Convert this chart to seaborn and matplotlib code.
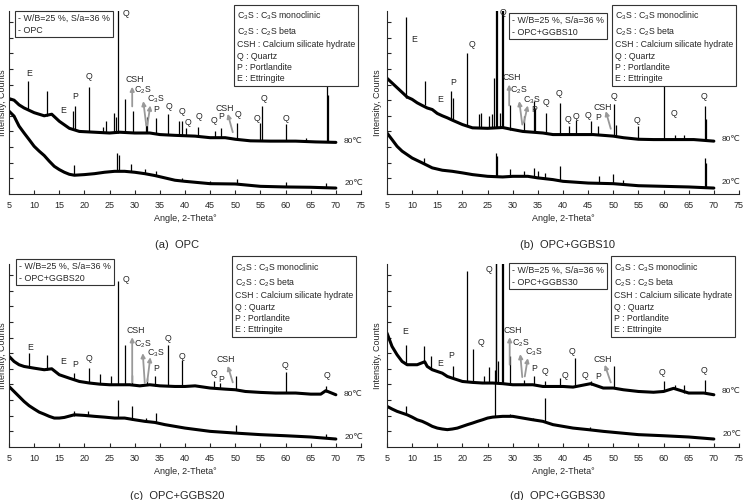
import matplotlib
matplotlib.use("Agg")
import matplotlib.pyplot as plt
import seaborn as sns

# ---------------- data ----------------
ANGLE_TICKS = list(range(5, 80, 5))
TEMPS = ["80℃", "20℃"]
MIXES = ["OPC", "OPC+GGBS10", "OPC+GGBS20", "OPC+GGBS30"]
CAPTIONS = ["(a)  OPC", "(b)  OPC+GGBS10", "(c)  OPC+GGBS20", "(d)  OPC+GGBS30"]
PHASES = [r"C$_3$S : C$_3$S monoclinic", r"C$_2$S : C$_2$S beta",
          "CSH : Calcium silicate hydrate", "Q : Quartz", "P : Portlandite",
          "E : Ettringite"]

# baseline (angle, intensity) and peaks (angle, foot, top)
A80_X = [5, 6, 7, 8, 10, 12, 13.5, 15, 17, 19, 22, 25, 27, 30, 33, 35, 38, 42, 45, 48, 50, 53, 57, 62, 66, 70]
A80_Y = [6.1, 6.0, 5.7, 5.5, 5.2, 5.0, 5.1, 4.65, 4.2, 4.0, 3.95, 3.9, 3.95, 3.9, 3.9, 3.8, 3.75, 3.7, 3.6, 3.6, 3.5, 3.4, 3.38, 3.38, 3.33, 3.3]
A80_PK = [(8.86, 5.4, 7.2), (12.5, 5.0, 6.6), (17.7, 4.2, 5.3), (18.2, 4.15, 5.6), (20.9, 4.0, 6.86),
          (23.7, 3.95, 4.3), (24.3, 3.95, 4.65), (25.8, 3.9, 5.2), (26.3, 3.9, 4.9), (26.7, 3.9, 12.0),
          (28.0, 3.95, 6.05), (29.6, 3.9, 5.3), (32.3, 3.9, 4.55), (32.5, 3.9, 4.9), (34.2, 3.85, 4.87),
          (36.6, 3.8, 5.1), (38.8, 3.75, 4.66), (39.4, 3.75, 4.66), (40.2, 3.73, 4.2), (42.6, 3.7, 4.3),
          (45.9, 3.6, 4.0), (47.1, 3.6, 4.2), (50.3, 3.5, 4.55), (54.9, 3.4, 4.55), (55.4, 3.4, 5.6),
          (60.0, 3.38, 4.45), (64.0, 3.35, 3.6), (68.2, 3.33, 7.2), (68.5, 3.33, 6.3)]
A20_X = [5, 6, 7, 8, 9, 10, 11, 12, 13, 14, 15, 16, 17, 18, 20, 22, 24, 26, 28, 30, 32, 34, 36, 38, 40, 45, 50, 55, 60, 65, 70]
A20_Y = [5.3, 4.98, 4.34, 3.9, 3.48, 3.05, 2.74, 2.46, 2.1, 1.77, 1.56, 1.39, 1.26, 1.2, 1.24, 1.3, 1.39, 1.45, 1.45, 1.39, 1.3, 1.18, 1.03, 0.88, 0.81, 0.66, 0.64, 0.49, 0.45, 0.43, 0.38]
A20_PK = [(18.0, 1.2, 1.84), (26.5, 1.45, 2.63), (26.8, 1.45, 2.5), (29.2, 1.4, 1.94), (32.0, 1.3, 1.6),
          (34.2, 1.18, 1.45), (39.4, 0.85, 1.05), (45.0, 0.66, 0.85), (50.3, 0.64, 0.96), (60.0, 0.45, 0.75),
          (68.0, 0.4, 0.7)]

B80_X = [5, 6, 7, 8, 9, 10, 11, 12, 13, 14, 15, 16, 17, 18, 20, 22, 25, 28, 30, 32, 34, 36, 38, 42, 46, 50, 52, 55, 58, 62, 66, 70]
B80_Y = [7.4, 7.1, 6.8, 6.5, 6.2, 6.05, 5.83, 5.66, 5.5, 5.4, 5.15, 5.0, 4.87, 4.72, 4.44, 4.23, 4.2, 4.25, 4.12, 4.0, 3.95, 3.9, 3.8, 3.8, 3.8, 3.7, 3.6, 3.5, 3.48, 3.48, 3.48, 3.38]
B80_PK = [(8.84, 6.15, 11.3), (12.5, 5.66, 7.2), (17.8, 4.72, 6.6), (18.05, 4.72, 6.15), (20.9, 4.44, 9.0),
          (23.2, 4.23, 5.1), (23.6, 4.23, 5.2), (25.3, 4.2, 5.0), (25.9, 4.2, 5.1), (26.3, 4.2, 7.4),
          (26.6, 4.2, 12.0), (26.8, 4.2, 12.0), (27.4, 4.25, 5.2), (27.9, 4.25, 12.0), (28.1, 4.25, 12.0),
          (29.5, 4.12, 5.66), (32.3, 4.0, 5.0), (34.2, 3.95, 5.94), (34.5, 3.95, 5.5), (36.6, 3.9, 5.2),
          (39.5, 3.8, 5.83), (41.2, 3.8, 4.34), (42.6, 3.8, 4.76), (45.6, 3.8, 4.66), (47.0, 3.78, 4.34),
          (50.2, 3.7, 5.73), (50.6, 3.7, 4.44), (55.0, 3.5, 4.34), (60.1, 3.48, 7.33), (62.3, 3.48, 3.8),
          (64.0, 3.48, 3.8), (68.2, 3.45, 5.6), (68.45, 3.45, 4.8)]
B20_X = [5, 6, 7, 8, 9, 10, 12, 14, 16, 18, 20, 22, 25, 28, 30, 33, 35, 38, 40, 45, 50, 55, 60, 65, 70]
B20_Y = [3.9, 3.48, 3.05, 2.74, 2.52, 2.3, 1.99, 1.67, 1.52, 1.45, 1.35, 1.24, 1.13, 1.09, 1.13, 1.13, 1.03, 0.92, 0.81, 0.7, 0.66, 0.53, 0.49, 0.45, 0.38]
B20_PK = [(12.3, 2.0, 2.3), (26.6, 1.1, 2.63), (26.9, 1.1, 2.4), (29.4, 1.12, 1.6), (32.3, 1.12, 1.5),
          (34.2, 1.08, 1.67), (35.0, 1.05, 1.45), (36.5, 1.0, 1.35), (39.4, 0.85, 1.77), (47.1, 0.68, 1.17),
          (50.0, 0.66, 1.3), (52.0, 0.6, 0.92), (68.2, 0.4, 2.3), (68.4, 0.4, 2.0)]

C80_X = [5, 6, 7, 8, 10, 12, 13.5, 15, 17, 19, 21, 23, 25, 27, 29, 31, 33, 35, 38, 40, 42, 45, 48, 50, 52, 55, 58, 62, 65, 67, 68, 70]
C80_Y = [5.8, 5.47, 5.26, 5.15, 5.04, 4.94, 5.0, 4.62, 4.4, 4.19, 4.09, 4.02, 3.98, 3.98, 3.98, 3.91, 3.98, 3.91, 3.87, 3.87, 3.91, 3.77, 3.7, 3.66, 3.55, 3.49, 3.45, 3.45, 3.38, 3.38, 3.6, 3.34]
C80_PK = [(8.9, 5.1, 6.04), (12.5, 4.94, 5.89), (18.0, 4.3, 4.72), (20.9, 4.1, 5.04), (23.0, 4.02, 4.68),
          (25.3, 3.98, 4.51), (26.7, 3.98, 10.64), (28.0, 3.98, 6.53), (29.4, 3.98, 4.62), (32.4, 3.95, 4.4),
          (34.1, 3.91, 4.51), (36.6, 3.89, 6.53), (39.5, 3.87, 5.57), (45.7, 3.77, 4.19), (47.0, 3.72, 4.09),
          (50.2, 3.66, 4.51), (60.0, 3.45, 4.79), (68.0, 3.5, 3.87)]
C20_X = [5, 6, 7, 8, 9, 10, 11, 12, 13, 14, 15, 16, 18, 20, 22, 24, 26, 28, 30, 32, 34, 36, 38, 40, 45, 50, 55, 60, 65, 70]
C20_Y = [3.87, 3.55, 3.23, 2.91, 2.64, 2.43, 2.23, 2.1, 1.96, 1.85, 1.85, 1.89, 2.06, 2.02, 1.96, 1.91, 1.85, 1.85, 1.74, 1.64, 1.57, 1.43, 1.32, 1.21, 1.0, 0.89, 0.79, 0.72, 0.64, 0.51]
C20_PK = [(18.0, 2.0, 2.3), (20.7, 2.0, 2.3), (26.7, 1.85, 3.02), (29.4, 1.74, 2.6), (32.2, 1.64, 1.85),
          (34.2, 1.57, 2.15), (50.1, 0.89, 1.43), (68.0, 0.55, 0.8)]

D80_X = [5, 6, 7, 8, 9, 11, 12.5, 13, 14, 15, 16, 17, 18, 20, 22, 24, 26, 28, 30, 32, 34, 36, 40, 42, 45.5, 48, 50, 52, 55, 58, 60, 62, 65, 68, 70]
D80_Y = [7.28, 6.43, 5.9, 5.47, 5.26, 5.26, 5.45, 5.15, 4.94, 4.83, 4.72, 4.51, 4.4, 4.19, 4.13, 4.09, 4.09, 4.05, 3.98, 3.98, 3.98, 3.87, 3.87, 3.83, 4.05, 3.77, 3.77, 3.66, 3.55, 3.5, 3.55, 3.75, 3.45, 3.45, 3.34]
D80_PK = [(8.8, 5.3, 6.53), (12.4, 5.4, 6.47), (13.8, 5.0, 5.79), (18.1, 4.4, 5.19), (20.9, 4.19, 11.28),
          (22.1, 4.13, 6.26), (24.3, 4.09, 4.55), (25.2, 4.09, 5.11), (26.6, 4.09, 12.0), (26.75, 4.09, 12.0),
          (27.0, 4.09, 5.47), (27.9, 4.05, 12.0), (28.05, 4.05, 12.0), (29.5, 3.98, 5.79), (32.2, 3.98, 4.3),
          (34.2, 3.98, 4.55), (36.5, 3.87, 4.19), (39.4, 3.87, 4.4), (42.3, 3.83, 5.68), (45.6, 3.95, 4.2),
          (50.2, 3.77, 5.19), (60.0, 3.55, 4.19), (62.2, 3.7, 3.98), (64.1, 3.45, 3.98), (68.2, 3.45, 4.3)]
D20_X = [5, 6, 7, 8, 9, 10, 11, 12, 13, 14, 15, 16, 17, 18, 19, 20, 21, 22, 23, 24, 25, 26, 28, 30, 32, 34, 36, 38, 40, 42, 45, 48, 50, 55, 60, 65, 70]
D20_Y = [2.6, 2.43, 2.28, 2.17, 2.06, 1.91, 1.74, 1.64, 1.49, 1.32, 1.21, 1.15, 1.11, 1.15, 1.21, 1.32, 1.43, 1.53, 1.64, 1.74, 1.85, 1.91, 1.96, 1.96, 1.85, 1.74, 1.64, 1.43, 1.32, 1.21, 1.11, 1.0, 0.94, 0.79, 0.72, 0.64, 0.51]
D20_PK = [(8.7, 2.15, 2.6), (26.5, 1.93, 4.94), (29.5, 1.96, 2.1), (34.0, 1.74, 1.85), (36.5, 1.64, 3.13),
          (45.3, 1.11, 1.3)]

CURVES = [
    [(A80_X, A80_Y, A80_PK), (A20_X, A20_Y, A20_PK)],
    [(B80_X, B80_Y, B80_PK), (B20_X, B20_Y, B20_PK)],
    [(C80_X, C80_Y, C80_PK), (C20_X, C20_Y, C20_PK)],
    [(D80_X, D80_Y, D80_PK), (D20_X, D20_Y, D20_PK)],
]

# ---------------- annotation placement (data coords) ----------------
C2S = r"C$_2$S"
C3S = r"C$_3$S"
LABELS = [
    [("E", 9.05, 7.7), ("Q", 28.3, 11.55), ("E", 15.7, 5.36), ("P", 18.2, 6.26), ("Q", 21.0, 7.5),
     ("CSH", 30.1, 7.35), (C2S, 31.6, 6.65), (C3S, 34.1, 6.05), ("P", 34.2, 5.4), ("Q", 36.8, 5.58),
     ("Q", 39.5, 5.26), ("Q", 40.5, 4.6), ("Q", 42.7, 4.98), ("Q", 45.8, 4.72), ("CSH", 47.9, 5.47),
     ("P", 47.2, 4.94), ("Q", 50.5, 5.09), ("Q", 54.3, 4.83), ("Q", 55.7, 6.1), ("Q", 60.1, 4.83)],
    [("E", 10.4, 9.85), ("Q", 28.1, 11.6), ("Q", 21.9, 9.57), ("P", 18.1, 7.1), ("E", 15.65, 6.05),
     ("CSH", 29.8, 7.42), (C2S, 31.2, 6.65), (C3S, 33.8, 6.0), ("P", 34.3, 5.4), ("Q", 36.6, 5.88),
     ("Q", 39.3, 6.4), ("Q", 40.9, 4.76), ("Q", 42.5, 4.98), ("Q", 44.9, 5.04), ("P", 46.9, 4.87),
     ("CSH", 47.9, 5.56), ("Q", 50.2, 6.26), ("Q", 54.8, 4.72), ("Q", 62.1, 5.15), ("Q", 68.0, 6.26)],
    [("E", 9.2, 6.38), ("Q", 28.3, 10.7), ("E", 15.7, 5.45), ("P", 18.2, 5.26), ("Q", 21.0, 5.68),
     ("CSH", 30.3, 7.45), (C2S, 31.5, 6.6), (C3S, 34.2, 6.0), ("P", 34.3, 5.04), ("Q", 36.6, 6.96),
     ("Q", 39.4, 5.79), ("Q", 45.8, 4.72), ("P", 47.2, 4.34), ("CSH", 48.1, 5.57), ("Q", 59.9, 5.21),
     ("Q", 68.2, 4.55)],
    [("E", 8.6, 7.38), ("Q", 25.2, 11.36), ("Q", 23.7, 6.68), ("P", 17.8, 5.83), ("E", 15.65, 5.36),
     ("CSH", 30.1, 7.46), (C2S, 31.5, 6.65), (C3S, 34.1, 6.05), ("P", 34.3, 5.04), ("Q", 36.4, 4.83),
     ("Q", 41.7, 6.1), ("Q", 40.3, 4.55), ("Q", 44.4, 4.55), ("P", 47.0, 4.51), ("CSH", 47.9, 5.57),
     ("Q", 59.7, 4.79), ("Q", 68.0, 4.87)],
]
ARROWS = [
    [(29.5, 5.6, 29.5, 6.86), (32.3, 4.38, 31.7, 5.94), (32.5, 4.38, 33.1, 5.66), (49.5, 3.95, 48.5, 5.13)],
    [(29.3, 5.66, 29.3, 7.0), (31.9, 4.44, 31.3, 5.94), (32.2, 4.55, 33.0, 5.66), (49.5, 4.17, 48.5, 5.3)],
    [(29.5, 4.13, 29.5, 7.02), (32.0, 4.09, 31.6, 6.0), (32.5, 4.19, 33.1, 5.74), (49.5, 4.13, 48.5, 5.19)],
    [(29.4, 5.26, 29.4, 7.02), (31.9, 4.47, 31.5, 5.94), (32.4, 4.51, 33.0, 5.68), (49.5, 4.13, 48.3, 5.26)],
]
TEMP_POS = [[(71.5, 3.38), (71.7, 0.7)], [(71.5, 3.48), (71.5, 0.75)],
            [(71.5, 3.34), (71.7, 0.62)], [(71.5, 3.55), (71.7, 0.79)]]

# ---------------- layout in figure pixels (750 x 500) ----------------
W, H = 750, 500
AX_PX = [(9, 194), (387, 194), (9, 447), (387, 447)]  # left, bottom (from top)
AX_W, AX_H = 352, 183
BOX1_PX = [(18, 14), (512, 16), (19, 262), (512, 266)]
BOX2_PX = [(237, 10), (615, 10), (235, 261), (614, 261)]
CAP_PX = [(177, 245), (568, 245), (177, 496), (557, 496)]
YLAB_X = [-0.006, -0.014, -0.006, -0.014]

sns.set_style("ticks")
plt.rcParams["font.family"] = ["Liberation Sans", "DejaVu Sans"]
plt.rcParams["mathtext.fontset"] = "custom"
plt.rcParams["mathtext.rm"] = "Liberation Sans"
plt.rcParams["mathtext.default"] = "rm"

fig = plt.figure(figsize=(W / 100, H / 100), dpi=100)

for i in range(4):
    lx, by = AX_PX[i]
    ax = fig.add_axes([lx / W, 1 - by / H, AX_W / W, AX_H / H])

    for (bx, byv, pk), (tx, ty), temp in zip(CURVES[i], TEMP_POS[i], TEMPS):
        sns.lineplot(x=bx, y=byv, ax=ax, color="black", lw=2.2, sort=False)
        ax.vlines([p[0] for p in pk], [p[1] for p in pk], [p[2] for p in pk],
                  color="black", lw=0.9)
        ax.text(tx, ty, temp, fontsize=6, va="center", ha="left")

    for txt, x, y in LABELS[i]:
        ax.text(x, y, txt, fontsize=6.3, ha="center", va="center")
    for x0, y0, x1, y1 in ARROWS[i]:
        ax.annotate("", xy=(x1, y1), xytext=(x0, y0),
                    arrowprops=dict(arrowstyle="-|>", color="#999999", lw=1.3,
                                    mutation_scale=6, shrinkA=0, shrinkB=0))

    ax.set_xlim(5, 75)
    ax.set_ylim(0, 11.7)
    ax.set_xticks(ANGLE_TICKS)
    ax.set_yticks(range(1, 12))
    ax.tick_params(axis="x", direction="in", length=3, width=0.8, pad=5, labelsize=6.5)
    ax.tick_params(axis="y", direction="in", length=3, width=0.8, labelleft=False)
    sns.despine(ax=ax)
    for s in ("left", "bottom"):
        ax.spines[s].set_linewidth(0.8)
    ax.set_xlabel("Angle, 2-Theta°", fontsize=6.5, labelpad=3)
    ax.set_ylabel("Intensity, Counts", fontsize=6.5)
    ax.yaxis.set_label_coords(YLAB_X[i], 0.5)

    bx1, by1 = BOX1_PX[i]
    fig.text(bx1 / W, 1 - by1 / H, "- W/B=25 %, S/a=36 %\n- " + MIXES[i],
             fontsize=6.4, ha="left", va="top", linespacing=1.4,
             bbox=dict(boxstyle="square,pad=0.3", fc="white", ec="#333333", lw=0.8))
    bx2, by2 = BOX2_PX[i]
    fig.text(bx2 / W, 1 - by2 / H, "\n".join(PHASES), fontsize=6.3,
             ha="left", va="top", linespacing=1.33,
             bbox=dict(boxstyle="square,pad=0.35", fc="white", ec="#333333", lw=0.8))

    cx, cy = CAP_PX[i]
    fig.text(cx / W, 1 - cy / H, CAPTIONS[i], fontsize=8, ha="center", va="center")

fig.savefig("out.png", dpi=100)
